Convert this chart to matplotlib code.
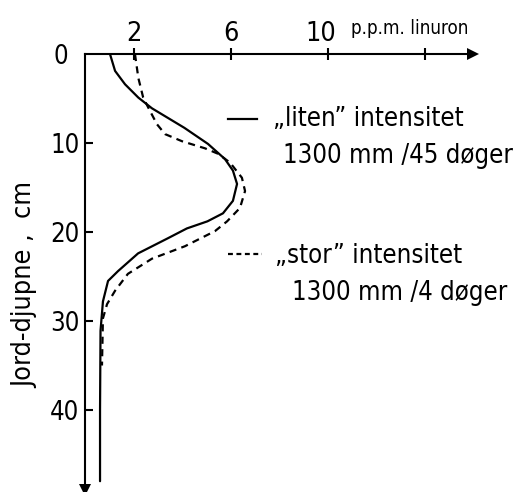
import matplotlib
matplotlib.use("Agg")
import matplotlib.pyplot as plt
import matplotlib.transforms as mtransforms
from matplotlib import font_manager
from matplotlib.font_manager import FontProperties
from matplotlib.textpath import TextPath

# ---------------- data ----------------
depth_liten = [0, 1.9, 3.4, 4.9, 6.1, 8.3, 10.1, 11.8, 13.1, 14.6, 16.5, 17.9, 18.8,
               19.6, 20.7, 22.4, 24.4, 25.5, 27.8, 31.1, 40, 48]
ppm_liten = [1.03, 1.24, 1.65, 2.2, 2.76, 4.1, 5.07, 5.77, 6.1, 6.27, 6.1, 5.69, 5.05,
             4.2, 3.42, 2.19, 1.36, 0.95, 0.74, 0.64, 0.62, 0.62]

depth_stor = [0, 2.7, 4.9, 6.4, 7.9, 9.0, 9.8, 10.6, 11.2, 12.2, 13.9, 15.4, 17.3,
              18.8, 19.9, 21.6, 23.0, 24.7, 26.6, 28.1, 29.7, 35]
ppm_stor = [2.06, 2.2, 2.4, 2.68, 2.97, 3.3, 4.0, 4.95, 5.48, 5.98, 6.47, 6.6, 6.39,
            5.86, 5.36, 4.12, 2.76, 1.77, 1.24, 0.91, 0.74, 0.7]

xticks = [2, 6, 10, 14]
xticklabels = ["2", "6", "10", ""]
yticks = [0, 10, 20, 30, 40]
yticklabels = ["0", "10", "20", "30", "40"]

x_label = "p.p.m. linuron"
y_label = "Jord-djupne ,  cm"
legend_liten = ["\u201eliten\u201d intensitet", "1300 mm /45 døger"]
legend_stor = ["\u201estor\u201d intensitet", "1300 mm /4 døger"]

# ---------------- font: prefer a narrow / condensed face ----------------
prefs = ["liberationsansnarrow-regular", "dejavusanscondensed.", "robotocondensed-regular",
         "notosans-condensed.", "notosans-condensedregular", "opensans-condensed",
         "opensans_condensed-regular", "lato-regular"]
fp = None
entries = font_manager.fontManager.ttflist
for p in prefs:
    for f in entries:
        if p in f.fname.lower().replace(" ", ""):
            fp = FontProperties(fname=f.fname)
            break
    if fp is not None:
        break
if fp is None:
    for f in entries:
        fl = f.fname.lower()
        if (("condensed" in fl or "narrow" in fl) and "bold" not in fl
                and "italic" not in fl and "light" not in fl and "semi" not in fl
                and "extra" not in fl and "black" not in fl and "medium" not in fl
                and "thin" not in fl):
            fp = FontProperties(fname=f.fname)
            break
if fp is None:
    fp = FontProperties(family="DejaVu Sans")

# scale sizes so that text widths match the reference ("intensitet" ~ 77 pt wide at 20)
w20 = TextPath((0, 0), "intensitet", size=20, prop=fp).get_extents().width
s = min(1.05, 77.0 / w20)


def fprop(size):
    p = fp.copy()
    p.set_size(size * s)
    return p


# ---------------- figure ----------------
W, H = 518, 492
fig = plt.figure(figsize=(W / 100, H / 100), dpi=100)
left_px, top_px = 85, 54
xmax, ymax = 16, 49
px_x, px_y = 24.25, 8.9
ax = fig.add_axes([left_px / W, 1 - (top_px + ymax * px_y) / H,
                   xmax * px_x / W, ymax * px_y / H])
ax.set_xlim(0, xmax)
ax.set_ylim(ymax, 0)

lw = 1.6
ax.plot(ppm_liten, depth_liten, color="black", lw=lw, solid_capstyle="round")
ax.plot(ppm_stor, depth_stor, color="black", lw=lw, linestyle=(0, (3.2, 2.4)))

for sp in ("bottom", "right"):
    ax.spines[sp].set_visible(False)
for sp in ("top", "left"):
    ax.spines[sp].set_linewidth(1.5)

# arrow heads
ax.plot([xmax], [0], marker=">", ms=9, color="black", clip_on=False, mew=0)
ax.plot([0], [ymax], marker="v", ms=9, color="black", clip_on=False, mew=0)

ax.xaxis.tick_top()
ax.xaxis.set_label_position("top")
ax.set_xticks(xticks)
ax.set_xticklabels(xticklabels, fontproperties=fprop(21))
ax.tick_params(axis="x", direction="inout", length=8, width=1.5, pad=1)
# hand-lettered "10" sits a little left of its tick
lab10 = ax.get_xticklabels()[2]
lab10.set_transform(lab10.get_transform() +
                    mtransforms.ScaledTranslation(-7 / 100, 0, fig.dpi_scale_trans))
ax.set_yticks(yticks)
ax.set_yticklabels(yticklabels, fontproperties=fprop(20))
ax.tick_params(axis="y", direction="in", length=6, width=1.5, pad=4)
ax.yaxis.get_major_ticks()[0].tick1line.set_visible(False)
ax.yaxis.get_major_ticks()[0].set_pad(12)

ax.text(10.95, -2.9, x_label, fontproperties=fprop(14.6), ha="left", va="center")
ax.set_ylabel(y_label, fontproperties=fprop(21))
ax.yaxis.set_label_coords(-0.12, 0.47)

# legend-like annotations
ax.plot([5.9, 7.1], [7.3, 7.3], color="black", lw=lw)
ax.text(7.75, 7.3, legend_liten[0], fontproperties=fprop(20), ha="left", va="center")
ax.text(8.16, 11.5, legend_liten[1], fontproperties=fprop(20), ha="left", va="center")
ax.plot([5.9, 7.3], [22.5, 22.5], color="black", lw=lw, linestyle=(0, (2.2, 1.6)))
ax.text(7.84, 22.7, legend_stor[0], fontproperties=fprop(20), ha="left", va="center")
ax.text(8.54, 26.9, legend_stor[1], fontproperties=fprop(20), ha="left", va="center")

fig.savefig("out.png", dpi=100)
